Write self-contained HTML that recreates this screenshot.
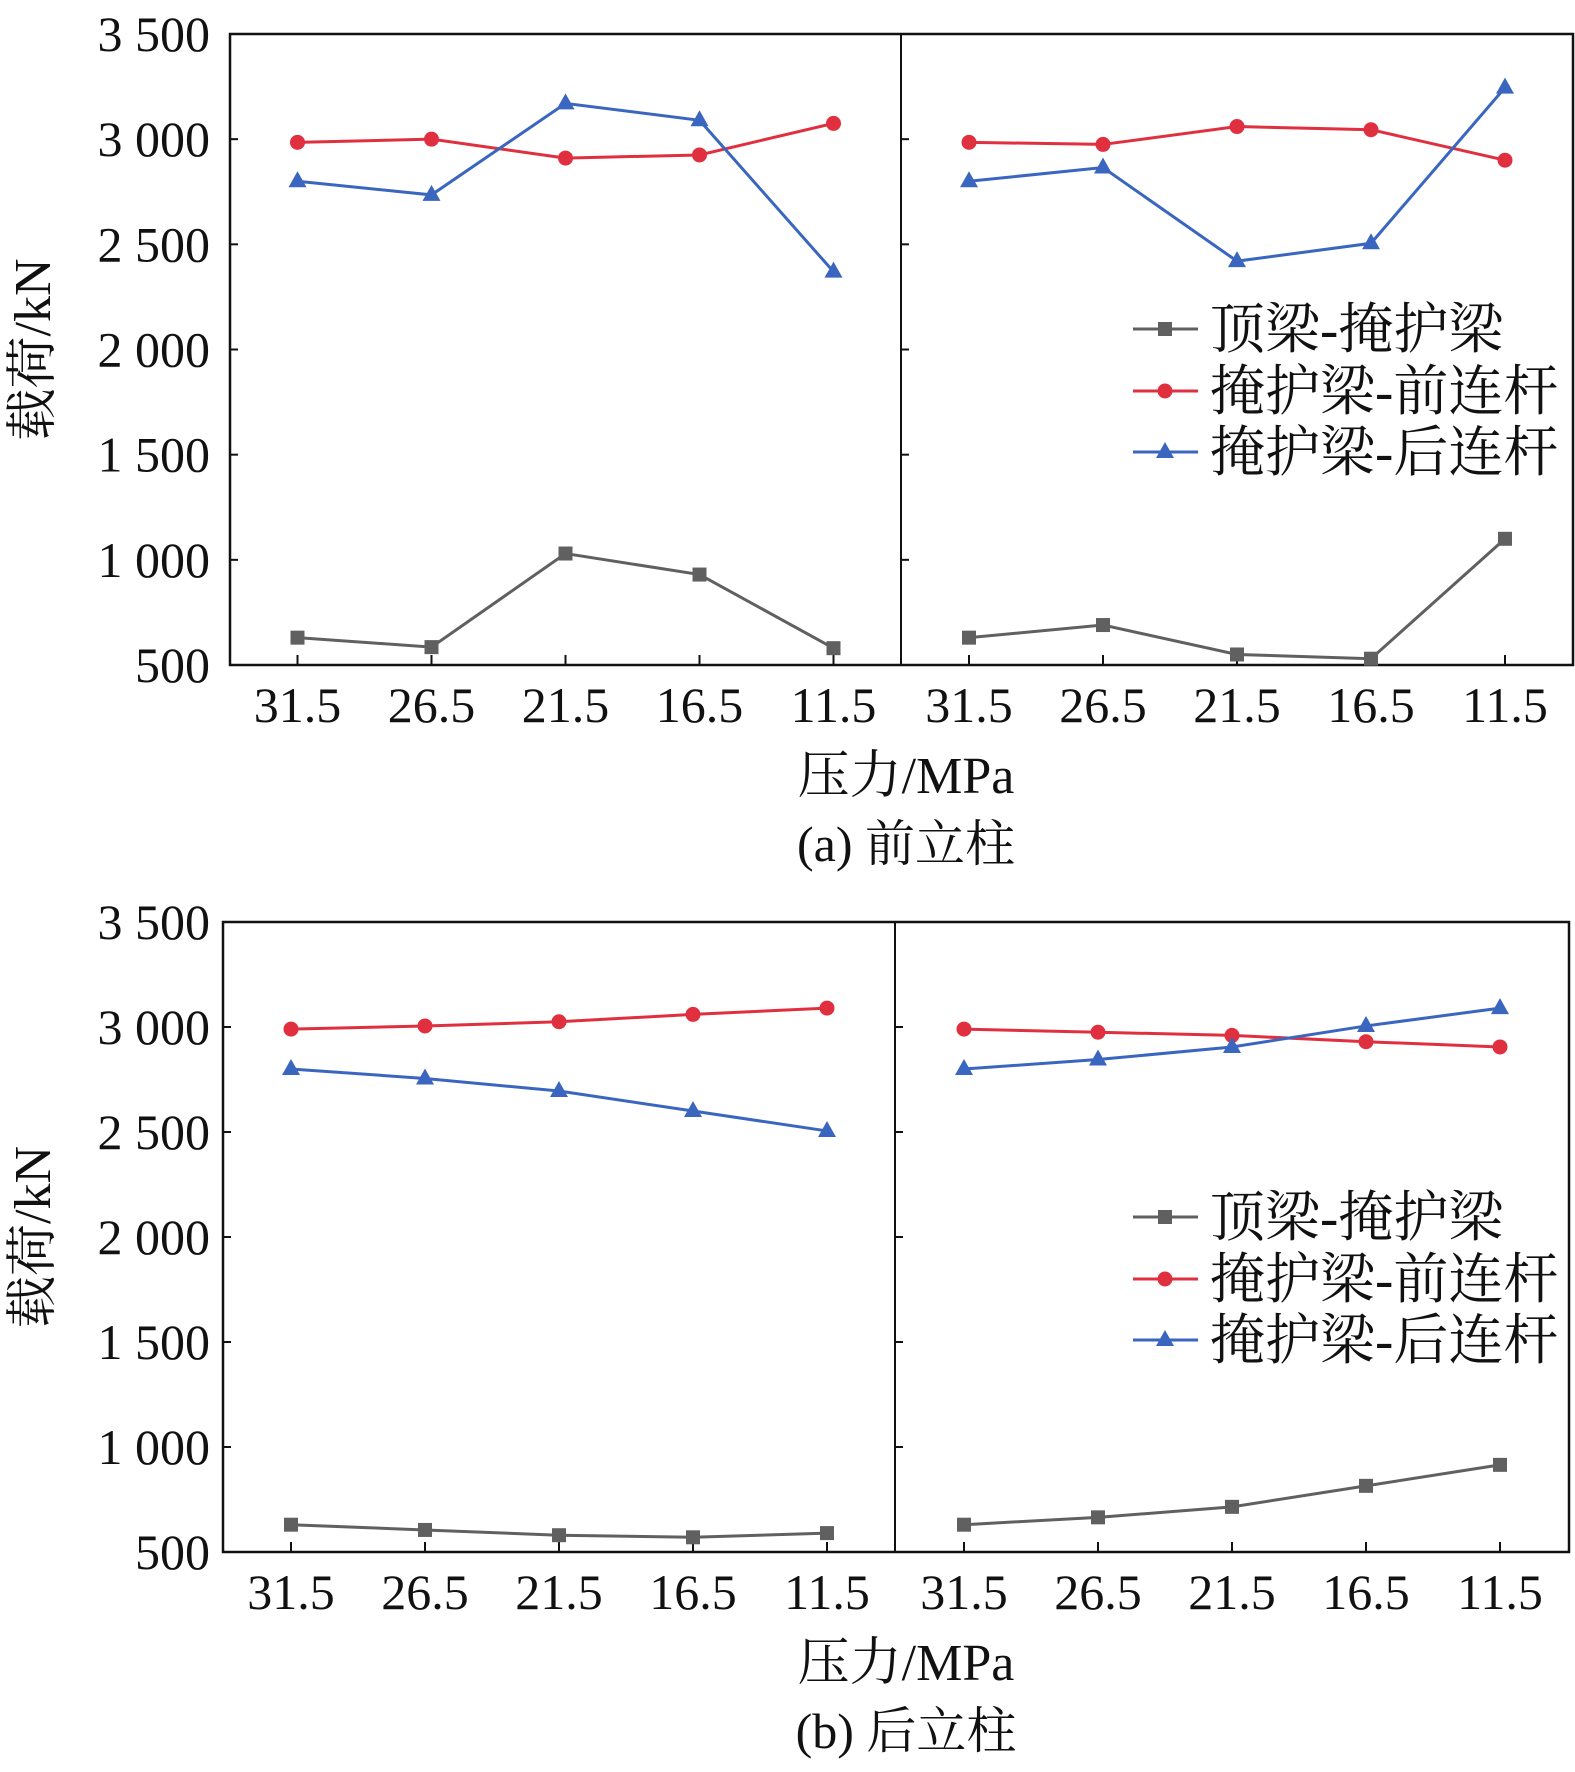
<!DOCTYPE html>
<html><head><meta charset="utf-8"><style>
body{margin:0;background:#fff}
svg{display:block}
text{font-family:"Liberation Serif","Noto Serif CJK SC",serif;fill:#111}
</style></head><body>
<svg id="c" width="1575" height="1772" viewBox="0 0 1575 1772" xmlns="http://www.w3.org/2000/svg"></svg>
<script>
const categories=["31.5","26.5","21.5","16.5","11.5"];
const yTicks=[500,1000,1500,2000,2500,3000,3500];
const yTickLabels=["500","1 000","1 500","2 000","2 500","3 000","3 500"];
const seriesNames=["顶梁-掩护梁","掩护梁-前连杆","掩护梁-后连杆"];
const aLeftGray=[630,585,1030,930,580];
const aLeftRed=[2985,3000,2910,2925,3075];
const aLeftBlue=[2800,2735,3170,3090,2370];
const aRightGray=[630,690,550,530,1100];
const aRightRed=[2985,2975,3060,3045,2900];
const aRightBlue=[2800,2865,2420,2505,3245];
const bLeftGray=[630,605,580,570,590];
const bLeftRed=[2990,3005,3025,3060,3090];
const bLeftBlue=[2800,2755,2695,2600,2505];
const bRightGray=[630,665,715,815,915];
const bRightRed=[2990,2975,2960,2930,2905];
const bRightBlue=[2800,2845,2905,3005,3090];

const NS="http://www.w3.org/2000/svg";
const svg=document.getElementById('c');
function mk(tag,attrs,parent){const e=document.createElementNS(NS,tag);for(const k in attrs)e.setAttribute(k,attrs[k]);(parent||svg).appendChild(e);return e;}
const colors=["#606060","#e0303f","#3a66c0"];

function panel(p,left,mid,right,top,bottom,data){
  const g=mk('g',{});
  
  
  const yS=v=>bottom-(v-500)/3000*(bottom-top);
  const step=134;
  const xL=i=>left+(mid-left)/2-2*step+i*step;
  const xR=i=>mid+(right-mid)/2-2*step+i*step;
  const fr=mk('rect',{x:left,y:top,width:right-left,height:bottom-top,fill:'none',stroke:'#111','stroke-width':2.5},g);
  
  
  const dv=mk('line',{x1:mid,y1:top,x2:mid,y2:bottom,stroke:'#111','stroke-width':2},g);
  
  
  yTicks.forEach((v,i)=>{
    const y=yS(v);
    mk('line',{x1:left,y1:y,x2:left+8,y2:y,stroke:'#111','stroke-width':2},g);
    mk('line',{x1:mid,y1:y,x2:mid+8,y2:y,stroke:'#111','stroke-width':2},g);
    const t=mk('text',{x:210,y:y+17,'text-anchor':'end','font-size':50},g);
    t.textContent=yTickLabels[i];
    
    
  });
  [xL,xR].forEach(fx=>categories.forEach((c,i)=>{
    const x=fx(i);
    mk('line',{x1:x,y1:bottom,x2:x,y2:bottom-10,stroke:'#111','stroke-width':2},g);
    const t=mk('text',{x:x,y:bottom+57,'text-anchor':'middle','font-size':50},g);
    t.textContent=c;
    
    
  }));
  const sets=[[xL,data[0]],[xR,data[1]]];
  sets.forEach(([fx,ser],si)=>ser.forEach((vals,k)=>{
    const pts=vals.map((v,i)=>fx(i)+','+yS(v)).join(' ');
    const pl=mk('polyline',{points:pts,fill:'none',stroke:colors[k],'stroke-width':3},g);
    
    
    vals.forEach((v,i)=>marker(g,k,fx(i),yS(v)));
  }));
  const yt=mk('text',{x:0,y:0,'text-anchor':'middle','font-size':52,transform:`translate(50,${(top+bottom)/2}) rotate(-90)`},g);
  yt.textContent='载荷/kN';
  
  
  const xt=mk('text',{x:906,y:bottom+128,'text-anchor':'middle','font-size':52},g);
  xt.textContent='压力/MPa';
  
  
  const cap=mk('text',{x:906,y:bottom+196,'text-anchor':'middle','font-size':50},g);
  cap.textContent=p==='a'?'(a) 前立柱':'(b) 后立柱';
  
  
  const ly=[top+295,top+357,top+418];
  seriesNames.forEach((n,k)=>{
    const le=mk('g',{},g);
    
    
    mk('line',{x1:1133,y1:ly[k],x2:1198,y2:ly[k],stroke:colors[k],'stroke-width':3},le);
    marker(le,k,1165,ly[k]);
    const t=mk('text',{x:1210,y:ly[k]+19,'font-size':55},le);
    t.textContent=n;
  });
}
function marker(g,k,x,y){
  let m;
  if(k===0)m=mk('rect',{x:x-7,y:y-7,width:14,height:14,fill:colors[0]},g);
  else if(k===1)m=mk('circle',{cx:x,cy:y,r:7.5,fill:colors[1]},g);
  else m=mk('polygon',{points:`${x},${y-10} ${x-9},${y+6} ${x+9},${y+6}`,fill:colors[2]},g);
  
  
}
panel('a',230,901,1573,34,665,[[aLeftGray,aLeftRed,aLeftBlue],[aRightGray,aRightRed,aRightBlue]]);
panel('b',223,895,1569,922,1552,[[bLeftGray,bLeftRed,bLeftBlue],[bRightGray,bRightRed,bRightBlue]]);
</script>
</body></html>
